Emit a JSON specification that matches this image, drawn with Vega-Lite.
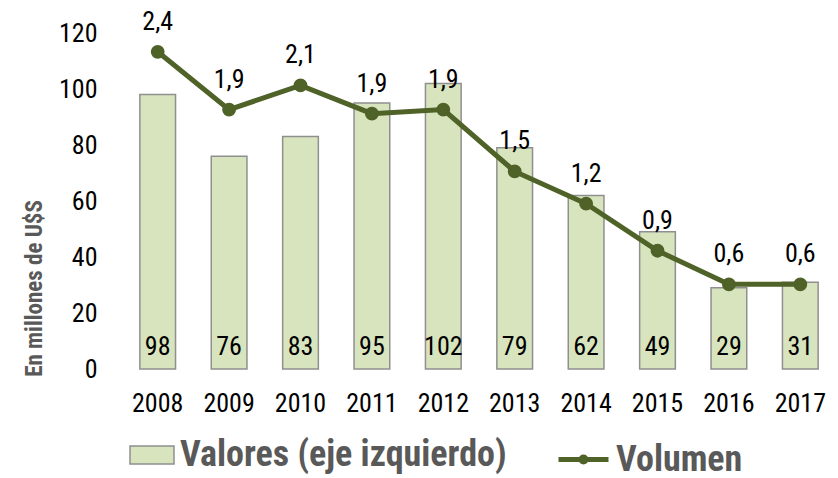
{
  "$schema": "https://vega.github.io/schema/vega-lite/v6.json",
  "width": 714,
  "height": 336,
  "autosize": {"type": "none"},
  "padding": {"left": 122, "top": 33, "right": 2, "bottom": 109},
  "background": "white",
  "config": {
    "view": {"stroke": null},
    "font": "Roboto Condensed, Liberation Sans Narrow, DejaVu Sans Condensed, Roboto, sans-serif",
    "locale": {"number": {"decimal": ",", "thousands": ".", "grouping": [3], "currency": ["", "$"]}},
    "axis": {"grid": false, "domain": false, "ticks": false, "labelFontSize": 26, "labelColor": "#000000"},
    "legend": {"labelFontSize": 36, "labelFontWeight": "bold", "labelColor": "#595959", "labelLimit": 0, "padding": 0, "labelOffset": 5, "orient": "none", "title": null}
  },
  "data": {
    "values": [
      {"anio": "2008", "valor": 98, "volumen": 2.36},
      {"anio": "2009", "valor": 76, "volumen": 1.93},
      {"anio": "2010", "valor": 83, "volumen": 2.11},
      {"anio": "2011", "valor": 95, "volumen": 1.9},
      {"anio": "2012", "valor": 102, "volumen": 1.93},
      {"anio": "2013", "valor": 79, "volumen": 1.47},
      {"anio": "2014", "valor": 62, "volumen": 1.23},
      {"anio": "2015", "valor": 49, "volumen": 0.88},
      {"anio": "2016", "valor": 29, "volumen": 0.63},
      {"anio": "2017", "valor": 31, "volumen": 0.63}
    ]
  },
  "encoding": {
    "x": {
      "field": "anio", "type": "nominal",
      "scale": {"paddingInner": 0.5, "paddingOuter": 0.25},
      "axis": {"title": null, "labelAngle": 0, "labelPadding": 21}
    }
  },
  "layer": [
    {
      "layer": [
        {
          "mark": {"type": "bar", "stroke": "#8f8f8f", "strokeWidth": 1.5},
          "encoding": {
            "y": {
              "field": "valor", "type": "quantitative",
              "scale": {"domain": [0, 120], "nice": false},
              "axis": {
                "values": [0, 20, 40, 60, 80, 100, 120],
                "labelPadding": 25,
                "title": "En millones de U$S",
                "titleFontSize": 23,
                "titleFontWeight": "bold",
                "titleColor": "#595959",
                "titlePadding": 12,
                "titleY": 255
              }
            },
            "fill": {
              "datum": "Valores (eje izquierdo)",
              "type": "nominal",
              "scale": {"range": ["#d7e4bd"]},
              "legend": {
                "legendX": 7,
                "legendY": 399,
                "symbolType": "M-1,-0.41H1V0.41H-1Z",
                "symbolSize": 1936,
                "symbolStrokeColor": "#8f8f8f",
                "symbolStrokeWidth": 1.5,
                "symbolOpacity": 1
              }
            }
          }
        },
        {
          "mark": {"type": "text", "baseline": "alphabetic", "dy": -14, "fontSize": 26, "color": "#000000"},
          "encoding": {
            "y": {"datum": 0, "type": "quantitative"},
            "text": {"field": "valor", "type": "quantitative", "format": "d"}
          }
        }
      ]
    },
    {
      "layer": [
        {
          "mark": {"type": "line", "strokeWidth": 5, "point": {"filled": true, "size": 140, "fill": "#4f6228", "color": "#4f6228"}},
          "encoding": {
            "y": {
              "field": "volumen", "type": "quantitative",
              "scale": {"domain": [0, 2.5], "nice": false},
              "axis": null
            },
            "stroke": {
              "datum": "Volumen",
              "type": "nominal",
              "scale": {"range": ["#4f6228"]},
              "legend": {
                "legendX": 434,
                "legendY": 399,
                "symbolType": "M-1,0H1M0.1,0A0.1,0.1,0,1,1,-0.1,0A0.1,0.1,0,1,1,0.1,0",
                "symbolSize": 2500,
                "symbolStrokeWidth": 5,
                "symbolFillColor": "#4f6228",
                "symbolOpacity": 1
              }
            }
          }
        },
        {
          "mark": {"type": "text", "baseline": "alphabetic", "dy": -22, "fontSize": 26, "color": "#000000"},
          "encoding": {
            "y": {"field": "volumen", "type": "quantitative"},
            "text": {"field": "volumen", "type": "quantitative", "format": ".1f"}
          }
        }
      ]
    }
  ],
  "resolve": {"scale": {"y": "independent"}}
}
